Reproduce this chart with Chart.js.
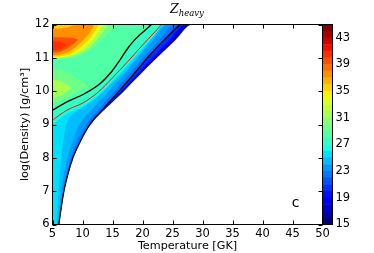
<!DOCTYPE html>
<html>
<head>
<meta charset="utf-8">
<script src="https://cdn.jsdelivr.net/npm/chart.js@4.4.0/dist/chart.umd.min.js"></script>
<style>
  html, body { margin: 0; padding: 0; background: #fff; }
  #wrap { position: relative; width: 374px; height: 253px; overflow: hidden; }
  #wrap canvas { position: absolute; left: 0; top: 0; }
  #title {
    position: absolute; left: 52px; width: 270px; top: 1px; text-align: center;
    font-family: "DejaVu Serif", serif; font-style: italic; font-size: 12.5px; color: #000;
  }
  #title sub { font-size: 8.5px; vertical-align: -3px; }
</style>
</head>
<body>
<div id="wrap">
  <canvas id="map" width="374" height="253"></canvas>
  <canvas id="bar" width="374" height="253"></canvas>
  <div id="title">Z<sub>heavy</sub></div>
</div>
<script>
(() => {
    // axes
    const temperatureTicks = [5, 10, 15, 20, 25, 30, 35, 40, 45, 50];
    const densityTicks = [6, 7, 8, 9, 10, 11, 12];
    const colorbarTicks = [15, 19, 23, 27, 31, 35, 39, 43];
    const levels = [15, 16, 17, 18, 19, 20, 21, 22, 23, 24, 25, 26, 27, 28, 29, 30,
                    31, 32, 33, 34, 35, 36, 37, 38, 39, 40, 41, 42, 43, 44, 45];

    // curves, [T (GK), log(density)]
    const edge = [[6.1, 6], [6.5, 6.5], [6.95, 7], [7.6, 7.5], [8.45, 8], [9.72, 8.5], [11.4, 9],
                  [14.0, 9.5], [16.9, 10], [19.6, 10.5], [22.4, 11], [25.3, 11.5], [28.3, 12]];
    const blackLower = [[6.05, 6], [6.45, 6.5], [6.9, 7], [7.55, 7.5], [8.4, 8], [9.65, 8.5], [11.2, 9],
                        [13.6, 9.5], [16.1, 10], [18.5, 10.5], [20.8, 11], [23.4, 11.5], [26.3, 12]];
    const blackUpper = [[5, 9.43], [7.4, 9.68], [10.1, 9.9], [12.9, 10.22], [15.0, 10.62], [16.3, 10.95],
                        [17.4, 11.25], [18.5, 11.5], [20.0, 11.76], [21.5, 12]];
    const redLine = [[5, 9.13], [7.4, 9.43], [10.1, 9.65], [12.6, 9.97], [15.0, 10.4], [17.5, 10.88],
                     [20.2, 11.42], [23.2, 12]];

    // contour band limits
    const band265 = [[5, 9.0], [7.4, 9.32], [10.1, 9.55], [12.6, 9.87], [15.0, 10.3], [17.5, 10.78],
                     [20.4, 11.36], [23.5, 12]];
    const band245 = [[5.7, 6], [5.85, 6.5], [6.0, 7], [6.2, 7.5], [6.45, 8], [6.8, 8.5], [7.3, 9],
                     [8.7, 9.35], [10.5, 9.55], [12.8, 9.87], [15.0, 10.25], [17.5, 10.7],
                     [19.8, 11.18], [21.8, 11.62], [23.8, 12]];
    const band235 = [[5.95, 6], [6.2, 6.5], [6.5, 7], [6.9, 7.5], [7.5, 8], [8.3, 8.5], [9.5, 9],
                     [11.5, 9.45], [13.9, 9.9], [16.4, 10.4], [19.0, 10.95], [21.6, 11.5], [24.3, 12]];
    const band225 = [[6.0, 6], [6.35, 6.5], [6.75, 7], [7.3, 7.5], [8.05, 8], [9.1, 8.5], [10.6, 9],
                     [12.9, 9.5], [15.3, 10], [17.7, 10.5], [20.1, 11], [22.6, 11.5], [25.3, 12]];
    const band185 = [[11.3, 9], [13.8, 9.5], [16.5, 10], [19.05, 10.5], [21.6, 11], [24.3, 11.5], [27.2, 12]];
    const band165 = [[11.38, 9], [13.95, 9.5], [16.8, 10], [19.4, 10.5], [22.1, 11], [24.9, 11.5], [27.8, 12]];

    const blob295 = [[5, 10.92], [8, 10.98], [11, 11.2], [13.5, 11.6], [15.8, 12]];
    const blob315 = [[5, 10.97], [8, 11.03], [11, 11.28], [13, 11.68], [14.3, 12]];
    const blob335 = [[5, 11.0], [8, 11.07], [10.8, 11.35], [12.5, 11.72], [13.3, 12]];
    const blob355 = [[5, 11.03], [8, 11.11], [10.4, 11.42], [11.9, 11.74], [12.7, 12]];
    const blob375 = [[5, 11.07], [7.5, 11.16], [9.5, 11.42], [11.1, 11.74], [12.0, 12]];
    const corner355Low = [[5, 11.87], [7, 11.9], [9, 12]];
    const corner355High = [[5, 12], [9, 12]];
    const core395Low = [[5, 11.15], [6.5, 11.2], [8.2, 11.38], [9.3, 11.55]];
    const core395High = [[5, 11.62], [6.5, 11.62], [8.2, 11.6], [9.3, 11.55]];
    const core405Low = [[5, 11.22], [6.2, 11.26], [7.4, 11.38]];
    const core405High = [[5, 11.5], [6.2, 11.48], [7.4, 11.38]];
    const patch295Low = [[5, 9.6], [7, 9.75], [9, 9.95], [11, 10.15]];
    const patch295High = [[5, 10.7], [7, 10.6], [9, 10.4], [11, 10.15]];
    const patch315Low = [[5, 9.78], [6.5, 9.88], [8.3, 10.1]];
    const patch315High = [[5, 10.35], [6.5, 10.3], [8.3, 10.1]];
    const wholeArea = [[5, 12], [50, 12]];

    // jet colour map
    const jetR = [[0, 0], [0.35, 0], [0.66, 1], [0.89, 1], [1, 0.5]];
    const jetG = [[0, 0], [0.125, 0], [0.375, 1], [0.64, 1], [0.91, 0], [1, 0]];
    const jetB = [[0, 0.5], [0.11, 1], [0.34, 1], [0.65, 0], [1, 0]];
    const interp = (pts, t) => {
        for (let i = 1; i < pts.length; i++) {
            if (t <= pts[i][0]) {
                const [x0, y0] = pts[i - 1], [x1, y1] = pts[i];
                return y0 + (y1 - y0) * (t - x0) / (x1 - x0);
            }
        }
        return pts[pts.length - 1][1];
    };
    const jet = (v) => {
        const t = Math.min(1, Math.max(0, (v - 15.5) / 29));
        const c = (p) => Math.round(255 * interp(p, t));
        return `rgb(${c(jetR)},${c(jetG)},${c(jetB)})`;
    };

    const toPoints = (curve) => curve.map(([x, y]) => ({x, y}));
    const datasets = [];
    const addLine = (curve, opts) => {
        datasets.push(Object.assign({
            data: toPoints(curve),
            showLine: true,
            pointRadius: 0,
            borderWidth: 0,
            borderColor: 'transparent',
            fill: false,
            cubicInterpolationMode: 'monotone'
        }, opts));
        return datasets.length - 1;
    };
    const fillBelow = (curve, color) => addLine(curve.concat([[50, 12]]), {backgroundColor: color, fill: 'start'});
    const fillAbove = (curve, color) => addLine(curve, {backgroundColor: color, fill: 'end'});
    const fillBetween = (low, high, color) => {
        const top = addLine(high, {});
        addLine(low, {backgroundColor: color, fill: {target: top}});
    };

    fillBelow(wholeArea, jet(25.5));
    fillAbove(band265, jet(26.5));
    fillAbove(redLine, jet(27.5));
    fillAbove(blackUpper, jet(28.5));
    fillAbove(blob295, jet(29.5));
    fillAbove(blob315, jet(31.5));
    fillAbove(blob335, jet(33.5));
    fillAbove(blob355, jet(35.5));
    fillAbove(blob375, jet(37.5));
    fillBetween(corner355Low, corner355High, jet(35.5));
    fillBetween(core395Low, core395High, jet(39.5));
    fillBetween(core405Low, core405High, jet(40.5));
    fillBetween(patch295Low, patch295High, jet(29.5));
    fillBetween(patch315Low, patch315High, jet(31.5));
    fillBelow(band245, jet(24.5));
    fillBelow(band235, jet(23.5));
    fillBelow(band225, jet(22.5));
    fillBelow(blackLower, jet(20.5));
    fillBelow(band185, jet(18.5));
    fillBelow(band165, jet(16.5));
    fillBelow(edge, '#ffffff');
    addLine(blackUpper, {borderColor: '#000', borderWidth: 1.3});
    addLine(redLine, {borderColor: '#e8141c', borderWidth: 1});
    addLine(blackLower, {borderColor: '#000', borderWidth: 1.3});

    datasets.forEach((d, i) => { d.order = 1000 - i; });

    const tickFont = {family: 'DejaVu Sans', size: 11.5};

    const frame = {
        id: 'frame',
        afterDraw(chart) {
            const {ctx, chartArea: a} = chart;
            const x = chart.scales.x, y = chart.scales.y;
            ctx.save();
            ctx.strokeStyle = '#000';
            ctx.lineWidth = 1;
            if (x && x.options.display !== false) {
                ctx.beginPath();
                temperatureTicks.forEach((v) => {
                    const px = Math.round(x.getPixelForValue(v)) + 0.5;
                    ctx.moveTo(px, a.bottom); ctx.lineTo(px, a.bottom - 4);
                    ctx.moveTo(px, a.top); ctx.lineTo(px, a.top + 4);
                });
                densityTicks.forEach((v) => {
                    const py = Math.round(y.getPixelForValue(v)) + 0.5;
                    ctx.moveTo(a.left, py); ctx.lineTo(a.left + 4, py);
                    ctx.moveTo(a.right, py); ctx.lineTo(a.right - 4, py);
                });
                ctx.stroke();
                ctx.font = '14px "DejaVu Sans"';
                ctx.fillStyle = '#000';
                ctx.textAlign = 'center';
                ctx.textBaseline = 'middle';
                ctx.fillText('c', x.getPixelForValue(45.5), y.getPixelForValue(6.62));
            }
            ctx.strokeRect(a.left, a.top, a.right - a.left, a.bottom - a.top);
            ctx.restore();
        }
    };

    new Chart(document.getElementById('map'), {
        type: 'scatter',
        data: {datasets},
        options: {
            responsive: false,
            animation: false,
            events: [],
            layout: {padding: {left: 0, right: 51.5, top: 24.5, bottom: 0}},
            plugins: {legend: {display: false}, tooltip: {enabled: false}},
            scales: {
                x: {
                    type: 'linear', min: 5, max: 50,
                    afterBuildTicks: (s) => { s.ticks = temperatureTicks.map((value) => ({value})); },
                    afterFit: (s) => { s.height = 28.5; },
                    grid: {display: false, drawTicks: false},
                    border: {display: false},
                    ticks: {color: '#000', font: tickFont, padding: 3, maxRotation: 0, autoSkip: false},
                    title: {display: true, text: 'Temperature [GK]', color: '#000',
                            font: {family: 'DejaVu Sans', size: 11.2}, padding: {top: 0, bottom: 0}}
                },
                y: {
                    type: 'linear', min: 6, max: 12,
                    afterBuildTicks: (s) => { s.ticks = densityTicks.map((value) => ({value})); },
                    afterFit: (s) => { s.width = 52.5; },
                    grid: {display: false, drawTicks: false},
                    border: {display: false},
                    ticks: {color: '#000', font: tickFont, padding: 3},
                    title: {display: true, text: 'log(Density) [g/cm³]', color: '#000',
                            font: {family: 'DejaVu Sans', size: 11.2}, padding: {top: 18, bottom: 0}}
                }
            }
        },
        plugins: [frame]
    });

    // colour bar
    const barSets = levels.slice(0, -1).map((lo, i) => ({
        data: [[lo, levels[i + 1]]],
        backgroundColor: jet(lo + 0.5),
        borderWidth: 0,
        barPercentage: 1,
        categoryPercentage: 1,
        grouped: false
    }));

    new Chart(document.getElementById('bar'), {
        type: 'bar',
        data: {labels: ['z'], datasets: barSets},
        options: {
            responsive: false,
            animation: false,
            events: [],
            layout: {padding: {left: 322.5, right: 0, top: 24.5, bottom: 28.5}},
            plugins: {legend: {display: false}, tooltip: {enabled: false}},
            scales: {
                x: {display: false},
                y: {
                    position: 'right', min: 15, max: 45,
                    afterBuildTicks: (s) => { s.ticks = colorbarTicks.map((value) => ({value})); },
                    afterFit: (s) => { s.width = 41.5; },
                    grid: {display: false, drawTicks: false},
                    border: {display: false},
                    ticks: {color: '#000', font: tickFont, padding: 3}
                }
            }
        },
        plugins: [frame]
    });
})();
</script>
</body>
</html>
